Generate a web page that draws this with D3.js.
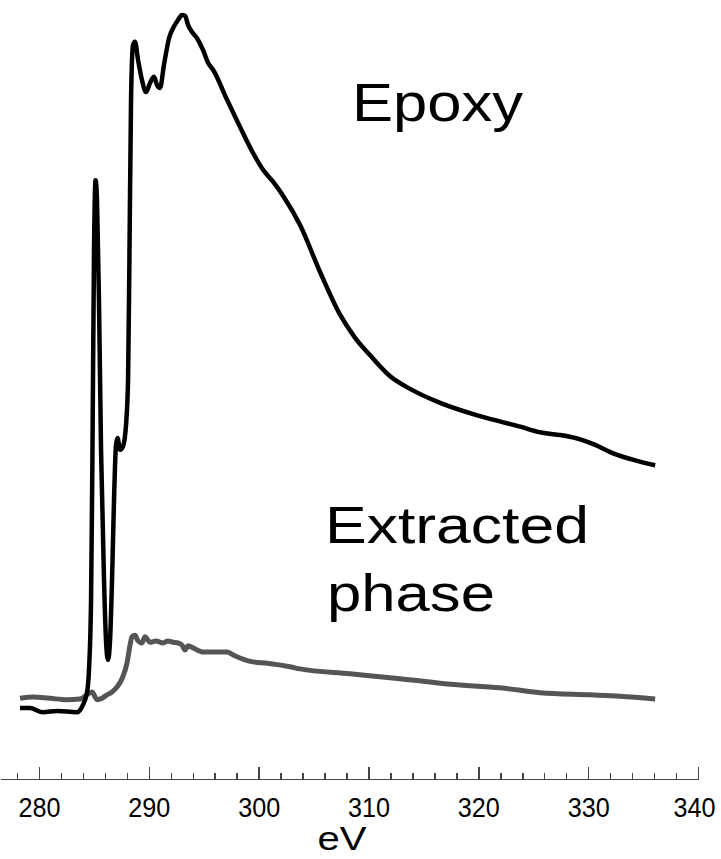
<!DOCTYPE html>
<meta charset="utf-8">
<style>
body { margin: 0; background: #fff; }
svg { display: block; }
.lbl { font-family: "Liberation Sans", Arial, sans-serif; fill: #000; }
.axis path, .axis line { stroke: #444; stroke-width: 1.5; shape-rendering: crispEdges; }
.axis text { font-family: "Liberation Sans", Arial, sans-serif; font-size: 28px; fill: #000; }
</style>
<body>
<script src="https://d3js.org/d3.v7.min.js"></script>
<script>
// Epoxy spectrum (energy in eV, intensity arb. units)
var epoxyE = [278.27, 279.18, 280.36, 281.64, 283.46, 283.92, 284.37, 284.55, 284.74, 284.87,
  285.01, 285.15, 285.28, 285.46, 285.65, 285.92, 286.10, 286.28, 286.47, 286.65,
  286.83, 287.01, 287.15, 287.38, 287.65, 287.92, 288.11, 288.24, 288.38, 288.56,
  288.74, 289.02, 289.38, 289.74, 290.11, 290.47, 290.75, 291.02, 291.38, 291.84,
  292.30, 292.66, 293.02, 293.30, 293.57, 293.93, 294.39, 294.94, 295.39, 295.85,
  297.12, 298.31, 299.49, 300.40, 301.31, 302.22, 303.77, 305.59, 307.41, 308.78,
  310.15, 311.97, 313.79, 316.52, 320.16, 323.81, 325.63, 327.91, 329.27, 330.64,
  332.28, 334.28, 336.10];
var epoxyI = [1.7, 1.7, 1.1, 1.3, 1.1, 1.9, 3.9, 7.1, 17.1, 38.6,
  67.1, 77.1, 74.3, 60.0, 38.6, 20.0, 11.4, 8.6, 11.4, 20.0,
  31.4, 39.3, 40.3, 38.6, 39.1, 42.1, 48.6, 67.1, 88.6, 96.4,
  96.9, 94.3, 91.4, 89.7, 91.0, 91.9, 90.7, 90.3, 93.6, 97.4,
  99.1, 100.0, 100.7, 100.6, 99.3, 98.3, 97.4, 95.7, 93.9, 92.9,
  88.6, 84.7, 81.0, 78.6, 76.9, 74.9, 70.7, 64.0, 57.9, 54.6,
  52.1, 49.1, 47.3, 45.3, 43.4, 41.9, 41.1, 40.6, 40.1, 39.3,
  38.1, 37.1, 36.4];

// Extracted phase spectrum
var extractE = [278.27, 279.45, 281.00, 282.55, 283.73, 284.46, 284.83, 285.28, 285.74, 286.19,
  286.65, 287.10, 287.56, 288.01, 288.29, 288.47, 288.74, 289.02, 289.38, 289.65,
  290.11, 290.66, 291.29, 291.75, 292.20, 292.66, 293.02, 293.30, 293.57, 294.03,
  294.94, 296.03, 297.12, 297.67, 298.76, 299.49, 300.77, 302.86, 303.77, 308.32,
  312.88, 317.43, 321.99, 325.63, 330.18, 332.91, 336.10];
var extractI = [3.1, 3.3, 3.1, 2.9, 3.0, 3.7, 4.0, 2.9, 3.1, 3.6,
  4.0, 4.7, 5.9, 8.1, 10.7, 11.9, 12.1, 11.3, 11.0, 11.9,
  11.1, 11.3, 11.0, 11.3, 11.1, 11.0, 10.7, 10.0, 10.6, 10.3,
  9.7, 9.7, 9.7, 9.3, 8.6, 8.3, 8.1, 7.6, 7.3, 6.6,
  5.9, 5.1, 4.6, 3.9, 3.6, 3.4, 3.0];

var majorTicks = [280, 290, 300, 310, 320, 330, 340];
var minorTicks = d3.range(278, 340, 2).filter(function(v) { return v % 10 !== 0; });

var width = 721, height = 859;

var svg = d3.select("body").append("svg")
    .attr("width", width)
    .attr("height", height);

var x = d3.scaleLinear().domain([276.45, 340]).range([0, 698]);
var y = d3.scaleLinear().domain([0, 100]).range([720, 20]);

var line = d3.line()
    .x(function(d) { return x(d[0]); })
    .y(function(d) { return y(d[1]); })
    .curve(d3.curveMonotoneX);

// minor ticks
svg.append("g")
    .attr("class", "axis")
    .attr("transform", "translate(0,779)")
    .call(d3.axisBottom(x).tickValues(minorTicks).tickSizeInner(-6).tickSizeOuter(0).tickFormat(""));

// major ticks + labels
svg.append("g")
    .attr("class", "axis")
    .attr("transform", "translate(0,779)")
    .call(d3.axisBottom(x).tickValues(majorTicks).tickSizeInner(-12).tickSizeOuter(0).tickPadding(18).tickFormat(d3.format("d")))
  .selectAll("text")
    .attr("dy", "0.71em")
    .attr("x", function(d) { return d === 340 ? -4 : 0; })
    .attr("textLength", 42)
    .attr("lengthAdjust", "spacingAndGlyphs");

svg.append("text")
    .attr("class", "lbl")
    .attr("x", 342)
    .attr("y", 850)
    .attr("text-anchor", "middle")
    .style("font-size", "33px")
    .attr("textLength", 49)
    .attr("lengthAdjust", "spacingAndGlyphs")
    .text("eV");

svg.append("path")
    .datum(d3.zip(extractE, extractI))
    .attr("fill", "none")
    .attr("stroke", "#555")
    .attr("stroke-width", 5)
    .attr("stroke-linejoin", "round")
    .attr("d", line);

svg.append("path")
    .datum(d3.zip(epoxyE, epoxyI))
    .attr("fill", "none")
    .attr("stroke", "#000")
    .attr("stroke-width", 4.5)
    .attr("stroke-linejoin", "round")
    .attr("d", line);

svg.append("text")
    .attr("class", "lbl")
    .attr("x", 352)
    .attr("y", 121)
    .style("font-size", "54px")
    .attr("textLength", 171)
    .attr("lengthAdjust", "spacingAndGlyphs")
    .text("Epoxy");

svg.append("text")
    .attr("class", "lbl")
    .attr("x", 325)
    .attr("y", 543)
    .style("font-size", "52px")
    .attr("textLength", 264)
    .attr("lengthAdjust", "spacingAndGlyphs")
    .text("Extracted");

svg.append("text")
    .attr("class", "lbl")
    .attr("x", 327)
    .attr("y", 611)
    .style("font-size", "52px")
    .attr("textLength", 168)
    .attr("lengthAdjust", "spacingAndGlyphs")
    .text("phase");
</script>
